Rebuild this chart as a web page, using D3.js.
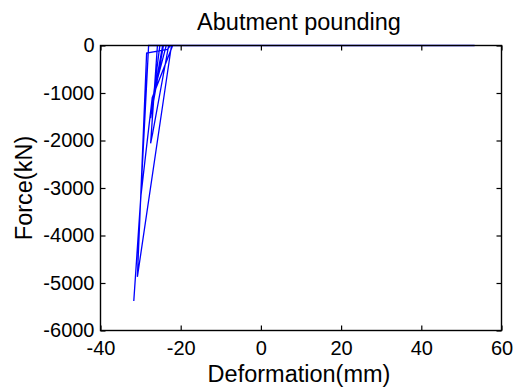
<!DOCTYPE html>
<html>
<head>
<meta charset="utf-8">
<script src="https://cdn.jsdelivr.net/npm/d3@7"></script>
<style>
  html, body { margin: 0; padding: 0; background: #fff; }
  svg { display: block; }
  text { font-family: "Liberation Sans", Arial, Helvetica, sans-serif; fill: #000; }
</style>
</head>
<body>
<svg id="chart" width="515" height="388"></svg>
<script>
// ---- data ----
const title = "Abutment pounding";
const xLabel = "Deformation(mm)";
const yLabel = "Force(kN)";
const xTicks = [-40, -20, 0, 20, 40, 60];
const yTicks = [-6000, -5000, -4000, -3000, -2000, -1000, 0];
const deformation = [53.3, -22.0, -24.5, -26.4, -23.6, -25.2, -27.5, -27.4, -24.3, -25.8, -27.5, -27.0, -23.0, -28.0, -30.0, -30.8, -22.3, -22.6, -23.3, -28.5, -30.0, -31.7, -29.9, -27.1, -22.0, 53.3];
const force =       [0,    0,     0,     -900,  0,     0,     -1530, -1470, 0,     0,     -2060, -1850, 0,     0,     -3250, -4870, 0,     0,     -80,   -160,  -3250, -5380, -3150, -1100, 0,     0];

// ---- layout ----
const L = 100.5, R = 501.5, T = 45.5, B = 330.5;
const svg = d3.select("#chart");
const x = d3.scaleLinear().domain([-40, 60]).range([L, R]);
const y = d3.scaleLinear().domain([-6000, 0]).range([B, T]);

// data line
const pts = deformation.map((d, i) => [d, force[i]]);
svg.append("path")
  .datum(pts)
  .attr("fill", "none")
  .attr("stroke", "#0000ff")
  .attr("stroke-width", 1.3)
  .attr("stroke-linejoin", "miter")
  .attr("d", d3.line().x(d => x(d[0])).y(d => y(d[1])));

const fmt = d => String(d);
const tick = 5;

const gB = svg.append("g").attr("transform", `translate(0,${B})`)
  .call(d3.axisBottom(x).tickValues(xTicks).tickSize(-tick).tickSizeOuter(0).tickPadding(10).tickFormat(fmt));
const gT = svg.append("g").attr("transform", `translate(0,${T})`)
  .call(d3.axisTop(x).tickValues(xTicks).tickSize(-tick).tickSizeOuter(0).tickFormat(""));
const gLft = svg.append("g").attr("transform", `translate(${L},0)`)
  .call(d3.axisLeft(y).tickValues(yTicks).tickSize(-tick).tickSizeOuter(0).tickPadding(6).tickFormat(fmt));
const gRt = svg.append("g").attr("transform", `translate(${R},0)`)
  .call(d3.axisRight(y).tickValues(yTicks).tickSize(-tick).tickSizeOuter(0).tickFormat(""));

[gB, gT, gLft, gRt].forEach(g => {
  g.selectAll(".domain").remove();
  g.selectAll(".tick line").attr("stroke", "#000").attr("stroke-width", 1.2);
  g.selectAll("text").attr("font-size", 20).attr("fill", "#000")
    .attr("font-family", "'Liberation Sans', Arial, sans-serif");
});

// box
svg.append("rect")
  .attr("x", L).attr("y", T).attr("width", R - L).attr("height", B - T)
  .attr("fill", "none").attr("stroke", "#000").attr("stroke-width", 1.4);

// title & labels
svg.append("text").attr("x", 299).attr("y", 29.5).attr("text-anchor", "middle")
  .attr("font-size", 23.5).text(title);
svg.append("text").attr("x", 299).attr("y", 381.5).attr("text-anchor", "middle")
  .attr("font-size", 23.5).text(xLabel);
svg.append("text").attr("transform", "translate(32,188) rotate(-90)").attr("text-anchor", "middle")
  .attr("font-size", 23.5).text(yLabel);
</script>
</body>
</html>
